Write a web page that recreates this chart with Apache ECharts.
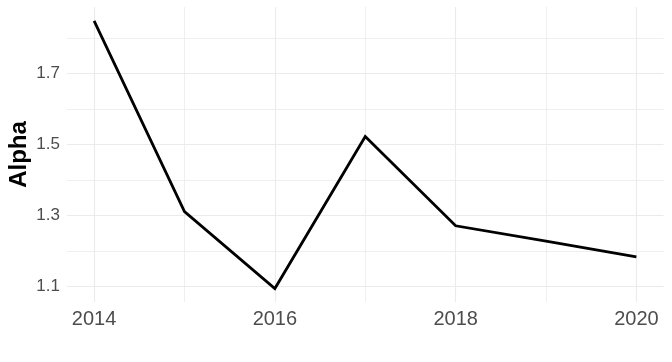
<!DOCTYPE html>
<html>
<head>
<meta charset="utf-8">
<script src="https://cdn.jsdelivr.net/npm/echarts@6/dist/echarts.min.js"></script>
<style>
html,body{margin:0;padding:0;background:#fff;}
#c{width:672px;height:362px;}
</style>
</head>
<body>
<div id="c"></div>
<script>
const years = [2014, 2015, 2016, 2017, 2018, 2019, 2020];
const alpha = [1.849, 1.311, 1.094, 1.5225, 1.271, 1.228, 1.183];
const xMajor = [2014, 2016, 2018, 2020];
const xMinor = [2015, 2017, 2019];
const yMajor = [1.1, 1.3, 1.5, 1.7];
const yMinor = [1.2, 1.4, 1.6, 1.8];

const gridColor = '#EBEBEB';
const FONT = '"Liberation Sans", Arial, sans-serif';

const gridLines = [];
xMajor.forEach(v => gridLines.push({xAxis: v, lineStyle: {width: 1.1}}));
xMinor.forEach(v => gridLines.push({xAxis: v, lineStyle: {width: 0.8}}));
yMajor.forEach(v => gridLines.push({yAxis: v, lineStyle: {width: 1.1}}));
yMinor.forEach(v => gridLines.push({yAxis: v, lineStyle: {width: 0.8}}));

const chart = echarts.init(document.getElementById('c'), null, {renderer: 'canvas'});
chart.setOption({
  animation: false,
  backgroundColor: '#ffffff',
  grid: {left: 67, right: 8.5, top: 7, bottom: 60, containLabel: false, outerBoundsMode: 'none'},
  xAxis: {
    type: 'value',
    min: 2013.7,
    max: 2020.3,
    axisLine: {show: false},
    axisTick: {show: false},
    splitLine: {show: false},
    axisLabel: {
      customValues: xMajor,
      color: '#4D4D4D',
      fontSize: 20,
      fontFamily: FONT,
      margin: 7,
      formatter: v => String(Math.round(v))
    }
  },
  yAxis: {
    type: 'value',
    min: 1.056,
    max: 1.888,
    name: 'Alpha',
    nameLocation: 'middle',
    nameGap: 36,
    nameMoveOverlap: false,
    nameTextStyle: {color: '#000000', fontSize: 24, fontWeight: 'bold', fontFamily: FONT},
    axisLine: {show: false},
    axisTick: {show: false},
    splitLine: {show: false},
    axisLabel: {
      customValues: yMajor,
      color: '#4D4D4D',
      fontSize: 17,
      fontFamily: FONT,
      margin: 7,
      formatter: v => v.toFixed(1)
    }
  },
  series: [
    {
      type: 'line',
      z: 1,
      silent: true,
      data: years.map((y, i) => [y, alpha[i]]),
      symbol: 'none',
      lineStyle: {opacity: 0},
      markLine: {
        silent: true,
        symbol: ['none', 'none'],
        label: {show: false},
        animation: false,
        lineStyle: {color: gridColor, type: 'solid'},
        data: gridLines
      }
    },
    {
      type: 'line',
      zlevel: 1,
      z: 3,
      data: years.map((y, i) => [y, alpha[i]]),
      symbol: 'none',
      lineStyle: {color: '#000000', width: 2.8, join: 'miter'}
    }
  ]
});
</script>
</body>
</html>
